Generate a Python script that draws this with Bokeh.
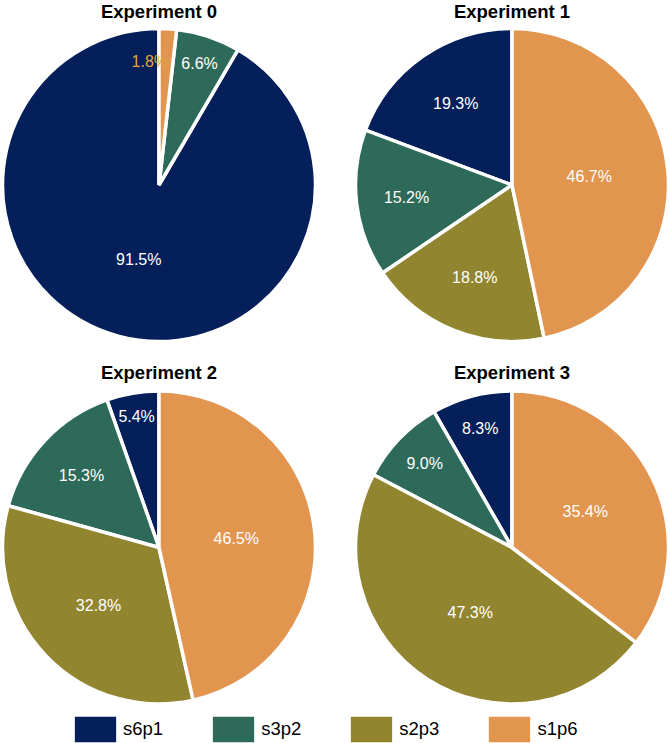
import math
from bokeh.plotting import figure
from bokeh.models import Range1d, ColumnDataSource, Legend, LegendItem
from bokeh.core.properties import value
from bokeh.embed import file_html
from bokeh.resources import INLINE

# ---------------- data ----------------
experiments = ["Experiment 0", "Experiment 1", "Experiment 2", "Experiment 3"]
series = ["s6p1", "s3p2", "s2p3", "s1p6"]
s6p1 = [91.5, 19.3, 5.4, 8.3]
s3p2 = [6.6, 15.2, 15.3, 9.0]
s2p3 = [0.0, 18.8, 32.8, 47.3]
s1p6 = [1.8, 46.7, 46.5, 35.4]

# ---------------- style / layout ----------------
colors = ["#041f5a", "#2e6a59", "#91852f", "#e1954f"]
tiny_label_color = "#e3a63c"
FONT = "Liberation Sans"
LABEL_PX = 16
W, H = 670, 743
col_x = [158.5, 511.5]          # pie centres (px from left)
row_y = [184.5, 547.0]          # pie centres (px from top)
title_y = [10.5, 371.5]
R = 155.0
TINY = 3.0                       # percent below which a label sits beside its slice

p = figure(width=W, height=H, output_backend="svg", toolbar_location=None,
           x_range=Range1d(0, W), y_range=Range1d(0, H), min_border=0,
           background_fill_color="white", border_fill_color="white")
p.axis.visible = False
p.grid.visible = False
p.outline_line_color = None

values = [s6p1, s3p2, s2p3, s1p6]

per_series = {j: dict(x=[], y=[], s=[], e=[]) for j in range(len(series))}
lx, ly, lt = [], [], []
tx, ty, tt, tc = [], [], [], []

for k, name in enumerate(experiments):
    cx = col_x[k % 2]
    cy = H - row_y[k // 2]
    lx.append(cx)
    ly.append(H - title_y[k // 2])
    lt.append(name)
    vals = [v[k] for v in values]
    total = sum(vals)
    ang = math.pi / 2
    for j, v in enumerate(vals):
        if v <= 0:
            continue
        f = v / total
        a0 = ang
        a1 = ang + 2 * math.pi * f
        d = per_series[j]
        d["x"].append(cx); d["y"].append(cy); d["s"].append(a0); d["e"].append(a1)
        mid = (a0 + a1) / 2
        txt = f"{v:.1f}%"
        if v < TINY:
            # too thin to hold its label: put it just beside the slice, in the slice's colour
            r = 0.8 * R
            half_w = 0.57 * LABEL_PX * len(txt) / 2
            tx.append(cx + r * math.cos(a0) - 5 - half_w); ty.append(cy + r * math.sin(a0))
            tt.append(txt); tc.append(tiny_label_color)
        else:
            half = math.pi * min(f, 0.5)
            r_ins = min(1 / (1 + 1 / math.sin(half)), 0.5)
            r = (1 - r_ins) * R
            tx.append(cx + r * math.cos(mid)); ty.append(cy + r * math.sin(mid))
            tt.append(txt); tc.append("white")
        ang = a1

items = []
for j, s in enumerate(series):
    r = p.wedge(x="x", y="y", radius=R + 1.5, start_angle="s", end_angle="e",
                fill_color=colors[j], line_color="white", line_width=3.5,
                source=ColumnDataSource(per_series[j]))
    items.append(LegendItem(label=s, renderers=[r]))

p.text(x="x", y="y", text="t", text_color="c", text_align=value("center"),
       text_baseline=value("middle"), text_font=value(FONT), text_font_size=f"{LABEL_PX}px",
       source=ColumnDataSource(dict(x=tx, y=ty, t=tt, c=tc)))

p.text(x="x", y="y", text="t", text_color="black", text_align=value("center"),
       text_baseline=value("middle"), text_font=value(FONT), text_font_size="18.5px",
       text_font_style="bold",
       source=ColumnDataSource(dict(x=lx, y=ly, t=lt)))

# legend: Bokeh draws an area swatch at 80% of the glyph box, with the white wedge edge
legend = Legend(items=items, orientation="horizontal", location=(67, -4),
                glyph_width=56, glyph_height=36, label_standoff=0, spacing=42,
                label_text_font=FONT, label_text_font_size="18.5px", label_text_color="black",
                padding=0, margin=0, border_line_color=None, background_fill_alpha=0,
                label_height=26)
p.add_layout(legend, "center")

open("out.html", "w").write(file_html(p, INLINE))
